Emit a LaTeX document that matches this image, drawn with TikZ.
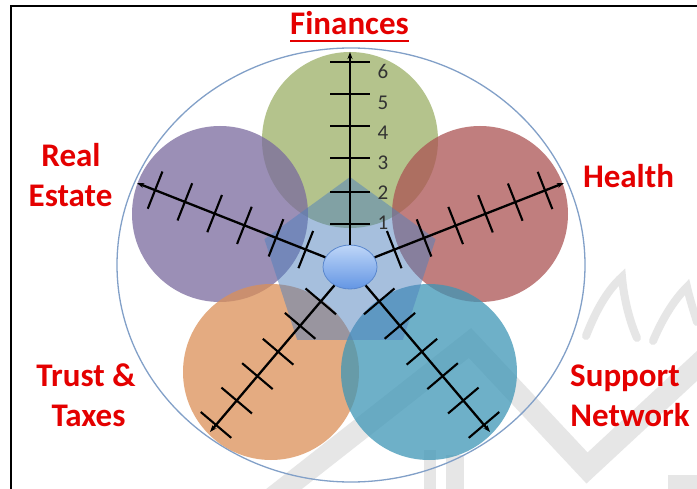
\documentclass[tikz,border=0pt]{standalone}
\usepackage{fontspec}
\setmainfont{Carlito}
\usetikzlibrary{calc,shapes.geometric,arrows.meta}

\definecolor{finfill}{RGB}{155,176,102}
\definecolor{realfill}{RGB}{122,106,158}
\definecolor{healthfill}{RGB}{171,83,83}
\definecolor{trustfill}{RGB}{219,144,88}
\definecolor{supportfill}{RGB}{62,150,182}
\definecolor{pentblue}{RGB}{79,129,189}
\definecolor{rimblue}{RGB}{130,160,200}
\definecolor{lblred}{RGB}{228,0,0}
\definecolor{numgray}{RGB}{50,50,50}
\definecolor{wmgray}{RGB}{230,230,230}
\definecolor{hubtop}{RGB}{190,214,248}
\definecolor{hubbot}{RGB}{100,150,228}
\definecolor{hubedge}{RGB}{90,135,205}

\tikzset{
  petal/.style={fill=#1, fill opacity=0.75},
  axisline/.style={line width=2.3pt, -{Stealth[length=7pt,width=5pt]}},
  tickmark/.style={line width=2.1pt},
  catlabel/.style={font=\fontsize{33}{38}\selectfont\bfseries, text=lblred, inner sep=0pt, anchor=base},
  scalenum/.style={font=\fontsize{21}{24}\selectfont, text=numgray, inner sep=0pt, anchor=base},
  wmband/.style={draw=wmgray, line width=#1, line join=miter},
}

% six cross ticks along an axis from #1 towards #2
\newcommand\axisticks[2]{%
  \foreach \d in {21pt,53pt,87pt,119pt,151pt,183pt}{%
    \path ($(#1)!\d!(#2)$) coordinate (tk);
    \draw[tickmark] ($(tk)!20pt!90:(#2)$) -- ($(tk)!20pt!-90:(#2)$);
  }}

\begin{document}
\begin{tikzpicture}[x=1pt,y=-1pt]
\useasboundingbox (0,0) rectangle (697,489);
\fill[white] (0,0) rectangle (697,489);

% faint crown emblem in the background
\draw[wmband=22pt] (270,500) -- (470,343) -- (587,468) -- (712,352);
\draw[wmband=8pt, line cap=round] (586,336) .. controls (598,305) and (610,288) .. (622,277)
      .. controls (624,300) and (630,322) .. (637,338);
\draw[wmband=8pt, line cap=round] (653,341) .. controls (664,315) and (676,298) .. (687,287)
      .. controls (690,300) and (694,312) .. (697,322);
\fill[wmgray] (424,450) rectangle (436,489);
\fill[wmgray] (446,455) rectangle (464,489);
\fill[wmgray] (668,475) rectangle (697,489);

% frame
\draw[line width=2.2pt] (11,489) -- (11,6) -- (697,6);

% outer rim
\draw[rimblue, line width=1.3pt] (351,265) ellipse [x radius=234, y radius=217];

% five overlapping areas
\fill[petal=finfill]     (350,140) circle [radius=88];
\fill[petal=realfill]    (220,214) circle [radius=88];
\fill[petal=healthfill]  (480,214) circle [radius=88];
\fill[petal=trustfill]   (271,372) circle [radius=88];
\fill[petal=supportfill] (429,372) circle [radius=88];

% central pentagon
\fill[pentblue, fill opacity=0.5] (350,177) -- (435.6,239.2) -- (402.9,339.8)
      -- (297.1,339.8) -- (264.4,239.2) -- cycle;

% hub
\node[ellipse, minimum width=54pt, minimum height=44pt, inner sep=0pt,
      draw=hubedge, line width=0.8pt, top color=hubtop, bottom color=hubbot] (hub) at (350,267) {};

% axis ends
\coordinate (tipF) at (350,52);
\coordinate (tipR) at (137,183);
\coordinate (tipH) at (564,183);
\coordinate (tipT) at (210,432);
\coordinate (tipS) at (490,432);

\foreach \t in {F,R,H,T,S}{
  \draw[axisline] (hub) -- coordinate[pos=0] (s\t) (tip\t);
  \axisticks{s\t}{tip\t}
}

% scale numbers
\node[scalenum] (n6) at (383,79)  {6};
\node[scalenum] (n5) at (383,110) {5};
\node[scalenum] (n4) at (383,140) {4};
\node[scalenum] (n3) at (383,170) {3};
\node[scalenum] (n2) at (383,200) {2};
\node[scalenum] (n1) at (383,230) {1};

% category labels
\node[catlabel] (lblFin) at (349.5,35) {Finances};
\draw[lblred, line width=2.4pt] ($(lblFin.base west)+(0,6)$) -- ($(lblFin.base east)+(0,6)$);
\node[catlabel] (lblReal)    at (71,167)    {Real};
\node[catlabel] (lblEstate)  at (70.5,207)  {Estate};
\node[catlabel] (lblHealth)  at (628.5,188) {Health};
\node[catlabel] (lblTrust)   at (86,387)    {Trust \&};
\node[catlabel] (lblTaxes)   at (88.5,427)  {Taxes};
\node[catlabel] (lblSupport) at (625,387)   {Support};
\node[catlabel] (lblNetwork) at (630,427)   {Network};
\end{tikzpicture}
\end{document}
